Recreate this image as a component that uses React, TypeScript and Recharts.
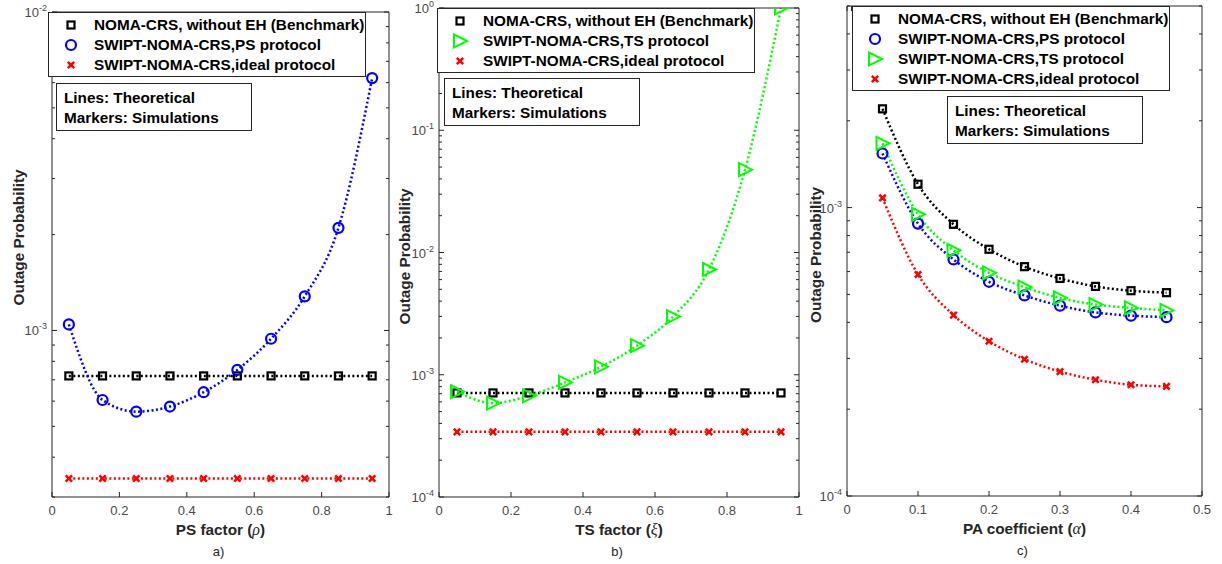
import React from 'react';
import { LineChart, Line, XAxis, YAxis } from 'recharts';

const FONT = '"Liberation Sans", Arial, Helvetica, sans-serif';
const INK = '#262626';
const BIG = 15.3;

// x values
const rhoX = [0.05, 0.15, 0.25, 0.35, 0.45, 0.55, 0.65, 0.75, 0.85, 0.95];
const xiX = [0.05, 0.15, 0.25, 0.35, 0.45, 0.55, 0.65, 0.75, 0.85, 0.95];
const alphaX = [0.05, 0.1, 0.15, 0.2, 0.25, 0.3, 0.35, 0.4, 0.45];

// a) PS factor
const benchA = [7.2e-4, 7.2e-4, 7.2e-4, 7.2e-4, 7.2e-4, 7.2e-4, 7.2e-4, 7.2e-4, 7.2e-4, 7.2e-4];
const psA = [1.045e-3, 6.05e-4, 5.56e-4, 5.77e-4, 6.4e-4, 7.52e-4, 9.42e-4, 1.28e-3, 2.1e-3, 6.2e-3];
const idealA = [3.43e-4, 3.43e-4, 3.43e-4, 3.43e-4, 3.43e-4, 3.43e-4, 3.43e-4, 3.43e-4, 3.43e-4, 3.43e-4];

// b) TS factor
const benchB = [7.1e-4, 7.1e-4, 7.1e-4, 7.1e-4, 7.1e-4, 7.1e-4, 7.1e-4, 7.1e-4, 7.1e-4, 7.1e-4];
const tsB = [7.26e-4, 5.86e-4, 6.73e-4, 8.65e-4, 1.16e-3, 1.73e-3, 2.99e-3, 7.26e-3, 4.76e-2, 1.0];
const idealB = [3.41e-4, 3.41e-4, 3.41e-4, 3.41e-4, 3.41e-4, 3.41e-4, 3.41e-4, 3.41e-4, 3.41e-4, 3.41e-4];

// c) PA coefficient
const benchC = [2.2e-3, 1.205e-3, 8.75e-4, 7.17e-4, 6.24e-4, 5.68e-4, 5.33e-4, 5.15e-4, 5.07e-4];
const psC = [1.54e-3, 8.8e-4, 6.61e-4, 5.53e-4, 4.96e-4, 4.57e-4, 4.33e-4, 4.22e-4, 4.17e-4];
const tsC = [1.67e-3, 9.48e-4, 7.11e-4, 5.94e-4, 5.3e-4, 4.86e-4, 4.61e-4, 4.49e-4, 4.4e-4];
const idealC = [1.08e-3, 5.86e-4, 4.24e-4, 3.44e-4, 2.98e-4, 2.7e-4, 2.53e-4, 2.43e-4, 2.4e-4];

// ticks
const xTicksAB = [0, 0.2, 0.4, 0.6, 0.8, 1];
const xTicksC = [0, 0.1, 0.2, 0.3, 0.4, 0.5];
const yTicksA = [3e-4, 4e-4, 5e-4, 6e-4, 7e-4, 8e-4, 9e-4, 1e-3, 2e-3, 3e-3, 4e-3, 5e-3, 6e-3, 7e-3, 8e-3, 9e-3, 1e-2];
const yTicksB = [
  1e-4, 2e-4, 3e-4, 4e-4, 5e-4, 6e-4, 7e-4, 8e-4, 9e-4,
  1e-3, 2e-3, 3e-3, 4e-3, 5e-3, 6e-3, 7e-3, 8e-3, 9e-3,
  1e-2, 2e-2, 3e-2, 4e-2, 5e-2, 6e-2, 7e-2, 8e-2, 9e-2,
  0.1, 0.2, 0.3, 0.4, 0.5, 0.6, 0.7, 0.8, 0.9, 1,
];
const yTicksC = [1e-4, 2e-4, 3e-4, 4e-4, 5e-4, 6e-4, 7e-4, 8e-4, 9e-4, 1e-3, 2e-3, 3e-3, 4e-3, 5e-3];

const LABELS: Record<string, string> = {
  bench: 'NOMA-CRS, without EH (Benchmark)',
  ps: 'SWIPT-NOMA-CRS,PS protocol',
  ts: 'SWIPT-NOMA-CRS,TS protocol',
  ideal: 'SWIPT-NOMA-CRS,ideal protocol',
};
const STYLE: Record<string, { color: string; kind: string }> = {
  bench: { color: '#000000', kind: 'square' },
  ps: { color: '#0000ff', kind: 'circle' },
  ts: { color: '#00ff00', kind: 'triangle' },
  ideal: { color: '#ff0000', kind: 'cross' },
};

function Marker({ kind, cx, cy, color }: any) {
  if (kind === 'square')
    return <rect x={cx - 3.5} y={cy - 3.5} width={7} height={7} fill="none" stroke={color} strokeWidth={2.2} />;
  if (kind === 'circle') return <circle cx={cx} cy={cy} r={5} fill="none" stroke={color} strokeWidth={2.2} />;
  if (kind === 'triangle')
    return (
      <polygon
        points={`${cx - 6},${cy - 6.5} ${cx + 7},${cy} ${cx - 6},${cy + 6.5}`}
        fill="none"
        stroke={color}
        strokeWidth={2}
      />
    );
  return (
    <g stroke={color} strokeWidth={2.5}>
      <line x1={cx - 3.2} y1={cy - 3.2} x2={cx + 3.2} y2={cy + 3.2} />
      <line x1={cx - 3.2} y1={cy + 3.2} x2={cx + 3.2} y2={cy - 3.2} />
    </g>
  );
}

function YTick(props: any) {
  const { x, y, payload, side } = props;
  const v = payload.value;
  const lg = Math.log10(v);
  const exp = Math.round(lg);
  const major = Math.abs(lg - exp) < 1e-6;
  const len = major ? 5 : 3;
  const dir = side === 'left' ? 1 : -1;
  return (
    <g>
      <line x1={x} x2={x + dir * len} y1={y} y2={y} stroke={INK} strokeWidth={1} />
      {side === 'left' && major && (
        <text x={x - 5} y={y + 5} textAnchor="end" fontSize={13} fill="#4a4a4a" fontFamily={FONT}>
          10
          <tspan dy={-6} fontSize={9}>
            {exp}
          </tspan>
        </text>
      )}
    </g>
  );
}

function XTick(props: any) {
  const { x, y, payload, side } = props;
  const dir = side === 'bottom' ? -1 : 1;
  return (
    <g>
      <line x1={x} x2={x} y1={y} y2={y + dir * 5} stroke={INK} strokeWidth={1} />
      {side === 'bottom' && (
        <text x={x} y={y + 18} textAnchor="middle" fontSize={13} fill="#4a4a4a" fontFamily={FONT}>
          {payload.value}
        </text>
      )}
    </g>
  );
}

function YTitle({ viewBox, dx, dy }: any) {
  if (!viewBox) return null;
  const cy = viewBox.y + viewBox.height / 2 + dy;
  const cx = viewBox.x + dx;
  return (
    <text
      transform={`translate(${cx},${cy}) rotate(-90)`}
      textAnchor="middle"
      dominantBaseline="central"
      fontSize={BIG}
      fontWeight="bold"
      fill={INK}
      fontFamily={FONT}
    >
      Outage Probability
    </text>
  );
}

function XTitle({ viewBox, text, sym, tag }: any) {
  if (!viewBox) return null;
  const cx = viewBox.x + viewBox.width / 2;
  return (
    <g fontFamily={FONT} fill={INK}>
      <text x={cx} y={viewBox.y + 38} textAnchor="middle" fontSize={BIG} fontWeight="bold">
        {text} (
        <tspan fontStyle="italic" fontWeight="normal" fontFamily='"Liberation Serif", serif' fontSize={16}>
          {sym}
        </tspan>
        )
      </text>
      <text x={cx - 2} y={viewBox.y + 59} textAnchor="middle" fontSize={13}>
        {tag}
      </text>
    </g>
  );
}

function LegendBox({ left, top, keys }: any) {
  return (
    <div
      style={{
        position: 'absolute',
        left,
        top,
        width: 318,
        border: `1px solid ${INK}`,
        background: '#fff',
        padding: '2px 0 1px 0',
        fontFamily: FONT,
        fontWeight: 'bold',
        fontSize: BIG,
        color: '#000',
        boxSizing: 'border-box',
      }}
    >
      {keys.map((k: string) => (
        <div key={k} style={{ display: 'flex', alignItems: 'center', height: 20, whiteSpace: 'nowrap' }}>
          <svg width={45} height={20} style={{ flex: 'none' }}>
            <Marker kind={STYLE[k].kind} cx={22} cy={10} color={STYLE[k].color} />
          </svg>
          <span>{LABELS[k]}</span>
        </div>
      ))}
    </div>
  );
}

function NoteBox({ left, top }: any) {
  return (
    <div
      style={{
        position: 'absolute',
        left,
        top,
        width: 196,
        height: 48,
        border: `1px solid ${INK}`,
        background: '#fff',
        boxSizing: 'border-box',
        padding: '4px 0 0 7px',
        fontFamily: FONT,
        fontWeight: 'bold',
        fontSize: BIG,
        lineHeight: '20px',
        color: '#000',
        whiteSpace: 'nowrap',
      }}
    >
      <div>Lines: Theoretical</div>
      <div>Markers: Simulations</div>
    </div>
  );
}

function Panel(cfg: any) {
  const H = 564;
  const { left, width, plotLeft, plotRight, plotTop, plotBottom, rows, keys } = cfg;
  return (
    <div style={{ position: 'absolute', left, top: 0 }}>
      <LineChart width={width} height={H} data={rows} margin={{ top: 0, right: 0, bottom: 0, left: 0 }}>
        <XAxis
          xAxisId="b"
          orientation="bottom"
          type="number"
          dataKey="x"
          domain={cfg.xDomain}
          ticks={cfg.xTicks}
          interval={0}
          height={H - plotBottom}
          tickSize={0}
          tickMargin={0}
          tickLine={false}
          axisLine={{ stroke: INK }}
          tick={<XTick side="bottom" />}
          allowDataOverflow
          label={<XTitle text={cfg.xText} sym={cfg.sym} tag={cfg.tag} />}
        />
        <XAxis
          xAxisId="t"
          orientation="top"
          type="number"
          domain={cfg.xDomain}
          ticks={cfg.xTicks}
          interval={0}
          height={plotTop}
          tickSize={0}
          tickMargin={0}
          tickLine={false}
          axisLine={{ stroke: INK }}
          tick={<XTick side="top" />}
          allowDataOverflow
        />
        <YAxis
          yAxisId="l"
          orientation="left"
          type="number"
          scale="log"
          domain={cfg.yDomain}
          ticks={cfg.yTicks}
          interval={0}
          width={plotLeft - left}
          tickSize={0}
          tickMargin={0}
          tickLine={false}
          axisLine={{ stroke: INK }}
          tick={<YTick side="left" />}
          allowDataOverflow
          label={<YTitle dx={cfg.titleDx} dy={cfg.titleDy} />}
        />
        <YAxis
          yAxisId="r"
          orientation="right"
          type="number"
          scale="log"
          domain={cfg.yDomain}
          ticks={cfg.yTicks}
          interval={0}
          width={left + width - plotRight}
          tickSize={0}
          tickMargin={0}
          tickLine={false}
          axisLine={{ stroke: INK }}
          tick={<YTick side="right" />}
          allowDataOverflow
        />
        {keys.map((k: string) => (
          <Line
            key={k}
            xAxisId="b"
            yAxisId="l"
            dataKey={k}
            type="monotone"
            stroke={STYLE[k].color}
            strokeWidth={2.5}
            strokeDasharray="2 2.5"
            dot={(p: any) => (
              <Marker key={`${k}-${p.index}`} kind={STYLE[k].kind} cx={p.cx} cy={p.cy} color={STYLE[k].color} />
            )}
            activeDot={false}
            isAnimationActive={false}
          />
        ))}
      </LineChart>
    </div>
  );
}

export default function App() {
  const rowsA = rhoX.map((x, i) => ({ x, bench: benchA[i], ps: psA[i], ideal: idealA[i] }));
  const rowsB = xiX.map((x, i) => ({ x, bench: benchB[i], ts: tsB[i], ideal: idealB[i] }));
  const rowsC = alphaX.map((x, i) => ({ x, bench: benchC[i], ps: psC[i], ts: tsC[i], ideal: idealC[i] }));
  return (
    <div
      style={{
        position: 'absolute',
        left: 0,
        top: 0,
        width: 1222,
        height: 564,
        background: '#fff',
        overflow: 'hidden',
      }}
    >
      <style>{'.recharts-surface{overflow:visible}'}</style>
      <Panel
        left={0}
        width={395}
        plotLeft={52}
        plotRight={389}
        plotTop={12}
        plotBottom={497}
        rows={rowsA}
        keys={['bench', 'ps', 'ideal']}
        xDomain={[0, 1]}
        xTicks={xTicksAB}
        yDomain={[3e-4, 1e-2]}
        yTicks={yTicksA}
        xText="PS factor"
        sym="ρ"
        tag="a)"
        titleDx={18}
        titleDy={-17}
      />
      <Panel
        left={395}
        width={405}
        plotLeft={439}
        plotRight={799}
        plotTop={8}
        plotBottom={497}
        rows={rowsB}
        keys={['bench', 'ts', 'ideal']}
        xDomain={[0, 1]}
        xTicks={xTicksAB}
        yDomain={[1e-4, 1]}
        yTicks={yTicksB}
        xText="TS factor"
        sym="ξ"
        tag="b)"
        titleDx={9}
        titleDy={4}
      />
      <Panel
        left={800}
        width={422}
        plotLeft={847}
        plotRight={1202}
        plotTop={6}
        plotBottom={496}
        rows={rowsC}
        keys={['bench', 'ps', 'ts', 'ideal']}
        xDomain={[0, 0.5]}
        xTicks={xTicksC}
        yDomain={[1e-4, 5e-3]}
        yTicks={yTicksC}
        xText="PA coefficient"
        sym="α"
        tag="c)"
        titleDx={15}
        titleDy={4}
      />
      <LegendBox left={48} top={12} keys={['bench', 'ps', 'ideal']} />
      <NoteBox left={56} top={83} />
      <LegendBox left={437} top={8} keys={['bench', 'ts', 'ideal']} />
      <NoteBox left={444} top={78} />
      <LegendBox left={852} top={6} keys={['bench', 'ps', 'ts', 'ideal']} />
      <NoteBox left={947} top={96} />
    </div>
  );
}
